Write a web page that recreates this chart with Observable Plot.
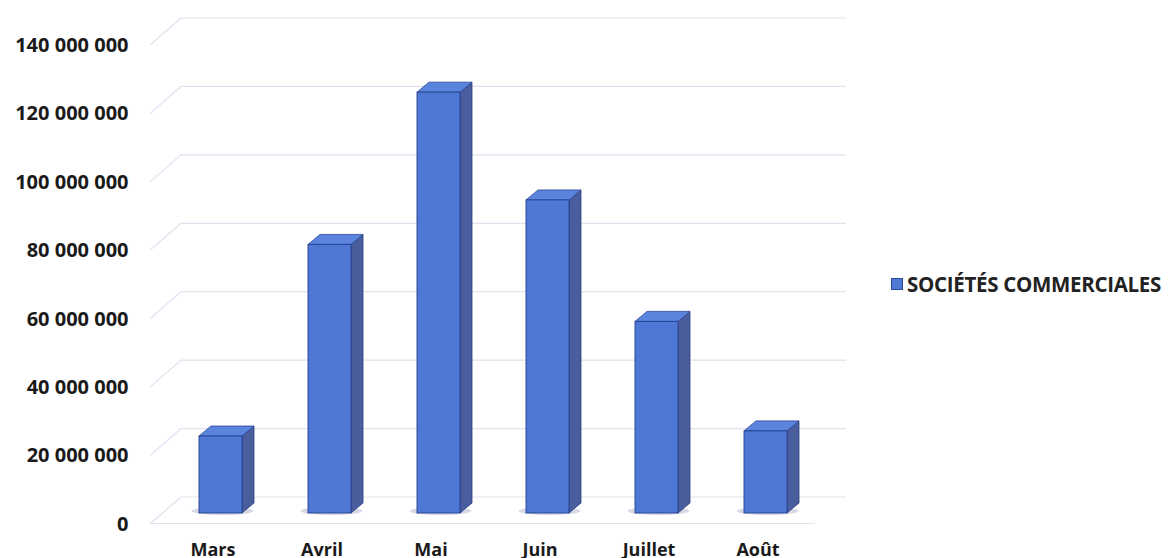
<!DOCTYPE html>
<html>
<head>
<meta charset="utf-8">
<script src="https://cdn.jsdelivr.net/npm/d3@7"></script>
<script src="https://cdn.jsdelivr.net/npm/@observablehq/plot@0.6"></script>
<style>
  html, body { margin: 0; padding: 0; background: #fff; }
  #wrap { position: relative; width: 1169px; height: 558px; overflow: hidden; font-family: "Open Sans", sans-serif; }
  #legend { position: absolute; left: 891px; top: 270px; font-weight: 700; font-size: 20.5px; color: #222; display: flex; align-items: center; white-space: nowrap; letter-spacing: -0.3px; }
  #legend .sw { width: 12px; height: 12px; background: #5079d4; border: 1px solid #2b4a9a; margin-right: 4px; box-sizing: border-box; }
</style>
</head>
<body>
<div id="wrap"><div id="chart"></div><div id="legend"><span class="sw"></span><span id="legtxt"></span></div></div>
<script>
const months = ["Mars", "Avril", "Mai", "Juin", "Juillet", "Août"];
const values = [22500000, 78500000, 123000000, 91500000, 56000000, 24000000];
const yTicks = [0, 20000000, 40000000, 60000000, 80000000, 100000000, 120000000, 140000000];
const seriesName = "SOCIÉTÉS COMMERCIALES";

document.getElementById("legtxt").textContent = seriesName;

const data = months.map((m, i) => ({month: m, value: values[i]}));
const fmt = d => d3.format(",")(d).replace(/,/g, " ");

const depthX = 12, depthY = 10;   // bar depth (3D look)
const wallX = 31, wallY = 27;     // back wall offset
const ns = "http://www.w3.org/2000/svg";

// 3D faces for the bars, derived from the rendered rects
function bar3d(index, scales, values, dims, ctx, next) {
  const g = next(index, scales, values, dims, ctx);
  const rects = Array.from(g.querySelectorAll("rect"));
  const extra = document.createElementNS(ns, "g");
  for (const r of rects) {
    const x = +r.getAttribute("x"), y = +r.getAttribute("y");
    const w = +r.getAttribute("width"), h = +r.getAttribute("height");
    const tr = r.getAttribute("transform") || "";
    const sh = document.createElementNS(ns, "ellipse");
    sh.setAttribute("cx", x + w / 2 + 2); sh.setAttribute("cy", y + h - 2);
    sh.setAttribute("rx", w * 0.72); sh.setAttribute("ry", 4);
    sh.setAttribute("fill", "#c4c7dc"); sh.setAttribute("opacity", 0.7);
    sh.setAttribute("stroke", "none");
    sh.setAttribute("transform", tr);
    extra.appendChild(sh);
    const side = document.createElementNS(ns, "path");
    side.setAttribute("d", `M${x + w},${y}L${x + w + depthX},${y - depthY}L${x + w + depthX},${y + h - depthY}L${x + w},${y + h}Z`);
    side.setAttribute("fill", "#4a5e9e"); side.setAttribute("stroke", "#2a3f82"); side.setAttribute("stroke-width", 0.8);
    side.setAttribute("transform", tr);
    extra.appendChild(side);
    const top = document.createElementNS(ns, "path");
    top.setAttribute("d", `M${x},${y}L${x + depthX},${y - depthY}L${x + w + depthX},${y - depthY}L${x + w},${y}Z`);
    top.setAttribute("fill", "#5b84df"); top.setAttribute("stroke", "#2a4594"); top.setAttribute("stroke-width", 0.8);
    top.setAttribute("stroke-linejoin", "round");
    top.setAttribute("transform", tr);
    extra.appendChild(top);
  }
  g.insertBefore(extra, g.firstChild);
  return g;
}

// back-wall gridlines with the diagonal side-wall stubs
function wallGrid(index, scales, values, dims, ctx, next) {
  const g = document.createElementNS(ns, "g");
  const x0 = dims.marginLeft, x1 = dims.width - dims.marginRight;
  for (const i of index) {
    const y = values.y[i];
    const l1 = document.createElementNS(ns, "line");
    l1.setAttribute("x1", x0 + wallX); l1.setAttribute("x2", x1 + wallX);
    l1.setAttribute("y1", y - wallY); l1.setAttribute("y2", y - wallY);
    l1.setAttribute("stroke", "#e1e1f0"); l1.setAttribute("stroke-width", 1.2);
    g.appendChild(l1);
    const l2 = document.createElementNS(ns, "line");
    l2.setAttribute("x1", x0); l2.setAttribute("x2", x0 + wallX);
    l2.setAttribute("y1", y); l2.setAttribute("y2", y - wallY);
    l2.setAttribute("stroke", "#e1e1f2"); l2.setAttribute("stroke-width", 1.2);
    g.appendChild(l2);
  }
  return g;
}

const chart = Plot.plot({
  width: 880,
  height: 558,
  marginLeft: 150,
  marginRight: 65,
  marginTop: 45,
  marginBottom: 34,
  style: {fontFamily: "Open Sans, sans-serif", background: "#fff"},
  x: {domain: months, insetLeft: 14.75, insetRight: -6.75, paddingInner: 0.61, paddingOuter: 0.305, label: null},
  y: {domain: [0, 140000000], label: null},
  marks: [
    Plot.ruleY(yTicks, {y: d => d, render: wallGrid}),
    Plot.ruleY([0], {stroke: "#e0e0f0", strokeWidth: 1.2, dy: -1}),
    Plot.barY(data, {x: "month", y: "value", fill: "#4f78d6", stroke: "#24418f", strokeWidth: 0.9, dy: -11, render: bar3d}),
    Plot.axisY(yTicks, {tickSize: 0, tickPadding: 22, tickFormat: fmt, fontSize: 20, fontWeight: 700, fill: "#1a1a1a"}),
    Plot.axisX({tickSize: 0, tickPadding: 19, dx: -8, fontSize: 18, fontWeight: 700, fill: "#1a1a1a"})
  ]
});
chart.querySelectorAll("text").forEach(t => { t.style.fontWeight = "700"; });
document.getElementById("chart").appendChild(chart);
</script>
</body>
</html>
